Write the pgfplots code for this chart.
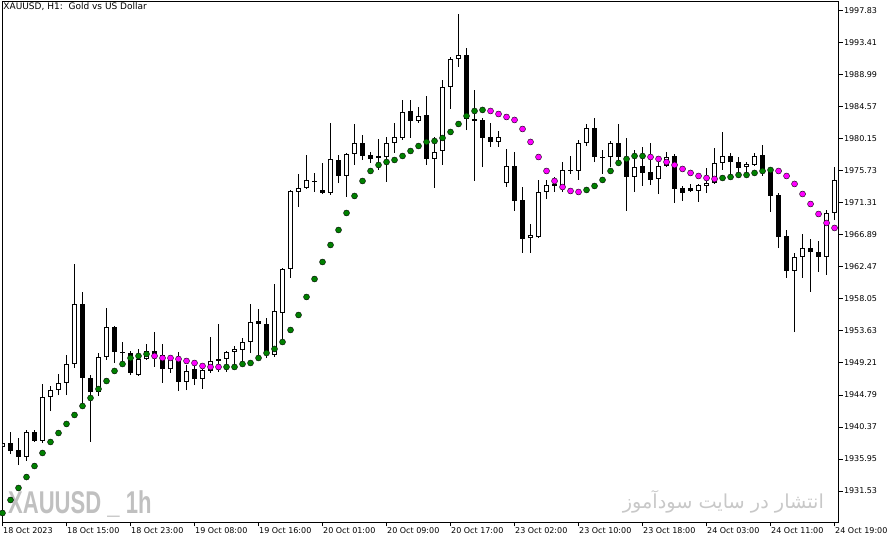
\documentclass[border=0pt]{standalone}
\usepackage{fontspec}
\setmainfont{DejaVu Sans}
\newfontfamily\arabicfont[Script=Arabic]{DejaVu Sans}
\newfontfamily\wmfont{Liberation Sans}
\TeXXeTstate=1
\usepackage{graphicx}
\usepackage{pgfplots}
\usepackage{pgfplotstable}
\pgfplotsset{compat=1.18}

\definecolor{sargreen}{RGB}{0,128,0}
\definecolor{sarmag}{RGB}{255,0,255}
\definecolor{wmgray}{RGB}{192,192,192}
\definecolor{wmgray2}{RGB}{200,200,200}

% H1 candles, bullish (close > open)
\pgfplotstableread{
x o h l c
0 1937.61 1938.30 1937.47 1938.16
3 1936.23 1939.96 1935.68 1939.68
5 1938.44 1946.31 1938.16 1944.51
6 1944.51 1946.03 1942.58 1945.48
7 1945.48 1947.69 1944.79 1946.45
8 1946.45 1950.32 1944.79 1949.07
9 1949.07 1962.89 1948.52 1957.36
12 1945.21 1950.59 1944.65 1950.04
13 1950.04 1956.81 1949.63 1954.18
17 1947.55 1951.15 1947.42 1949.76
18 1949.76 1951.84 1949.63 1950.87
21 1948.38 1950.04 1947.83 1949.76
23 1946.59 1948.93 1945.48 1948.11
25 1947.00 1948.93 1945.62 1948.24
26 1948.11 1952.80 1947.83 1949.49
27 1949.49 1954.60 1947.97 1949.76
28 1949.76 1950.87 1947.97 1950.73
29 1950.73 1951.56 1949.07 1951.15
30 1951.01 1952.66 1949.21 1952.11
31 1952.11 1957.36 1950.59 1954.87
34 1950.32 1960.12 1950.04 1956.39
35 1956.12 1962.33 1952.11 1962.20
36 1962.20 1973.11 1960.95 1972.97
37 1972.83 1975.32 1970.76 1973.38
38 1973.38 1977.94 1973.25 1974.49
41 1972.69 1982.36 1972.42 1977.39
43 1975.04 1978.22 1972.14 1978.08
44 1978.08 1982.22 1976.56 1979.60
47 1977.53 1980.15 1975.87 1977.80
48 1977.66 1980.43 1974.21 1979.60
49 1979.60 1982.36 1978.22 1980.43
50 1980.29 1985.54 1980.01 1983.88
52 1982.64 1984.57 1982.36 1983.33
54 1977.39 1980.43 1973.38 1978.36
55 1978.49 1988.30 1976.56 1987.33
56 1987.33 1991.48 1984.30 1991.20
57 1991.20 1997.42 1990.10 1991.75
62 1979.74 1981.26 1979.05 1980.43
63 1974.07 1978.77 1973.52 1976.42
66 1966.48 1968.41 1964.41 1966.89
67 1966.61 1974.49 1966.48 1972.83
68 1972.83 1974.49 1971.86 1973.80
70 1973.66 1976.97 1972.83 1975.87
72 1975.73 1980.01 1974.49 1979.60
73 1979.60 1982.22 1979.18 1981.67
76 1977.66 1979.87 1976.28 1979.60
79 1974.90 1978.63 1972.83 1976.28
82 1974.63 1977.39 1972.55 1976.42
83 1976.42 1978.36 1976.28 1977.66
87 1972.97 1973.94 1971.45 1973.80
88 1973.66 1976.15 1972.69 1974.07
89 1974.07 1978.91 1973.94 1976.84
90 1976.84 1981.12 1975.87 1977.80
93 1976.28 1976.97 1974.76 1976.70
94 1976.56 1978.22 1976.42 1977.80
99 1961.92 1964.41 1953.49 1963.85
100 1963.85 1967.03 1960.95 1965.09
103 1963.85 1970.34 1961.37 1969.93
104 1969.93 1976.28 1968.96 1974.49
}\bull

% bearish (close < open)
\pgfplotstableread{
x o h l c
1 1938.16 1939.68 1936.64 1937.06
2 1937.19 1938.85 1935.12 1936.23
4 1939.68 1939.96 1938.30 1938.44
10 1957.36 1959.02 1943.13 1947.14
11 1947.14 1947.55 1938.30 1945.21
14 1954.18 1954.32 1949.21 1950.73
15 1950.73 1952.11 1949.21 1950.59
16 1950.59 1950.87 1947.55 1947.83
19 1950.87 1953.49 1948.66 1950.32
20 1950.32 1951.84 1946.45 1948.38
22 1949.90 1950.73 1945.34 1946.59
24 1948.38 1948.93 1946.17 1947.00
32 1955.01 1956.67 1949.90 1954.60
33 1954.60 1955.43 1949.90 1950.32
39 1974.35 1975.46 1972.83 1974.21
40 1973.11 1976.84 1972.55 1972.69
42 1977.25 1977.94 1974.07 1975.04
45 1979.60 1980.70 1977.25 1977.80
46 1977.94 1978.36 1976.84 1977.39
51 1984.02 1985.54 1980.29 1982.64
53 1983.47 1986.09 1976.56 1977.39
58 1991.75 1992.72 1981.39 1982.91
59 1982.91 1986.92 1974.35 1982.64
60 1982.78 1983.05 1976.28 1980.29
61 1980.43 1982.36 1979.05 1979.74
64 1976.42 1978.36 1970.21 1971.59
65 1971.73 1973.52 1964.41 1966.34
69 1973.94 1974.90 1972.83 1973.66
71 1975.87 1977.80 1975.32 1975.73
74 1981.67 1983.05 1976.97 1977.66
75 1977.66 1978.63 1975.32 1977.53
77 1979.60 1982.22 1976.84 1977.66
78 1977.66 1980.29 1970.21 1974.90
80 1976.42 1979.05 1973.66 1975.46
81 1975.59 1979.60 1973.80 1974.49
84 1977.80 1978.08 1971.31 1973.25
85 1973.38 1973.66 1971.59 1972.69
86 1973.38 1973.94 1972.83 1972.97
91 1977.80 1978.22 1975.18 1976.97
92 1976.97 1977.66 1974.90 1976.15
95 1977.94 1979.32 1975.04 1975.73
96 1975.87 1976.15 1970.07 1972.28
97 1972.42 1972.69 1965.09 1966.61
98 1966.75 1967.58 1960.95 1961.92
101 1965.09 1966.34 1959.02 1964.54
102 1964.54 1966.06 1961.78 1963.85
}\bear

% indicator dots below price (green)
\pgfplotstableread{
x y
0 1928.49
1 1930.29
2 1931.95
3 1933.46
4 1934.98
5 1936.78
6 1938.30
7 1939.54
8 1940.79
9 1942.03
10 1943.27
11 1944.38
12 1945.62
13 1946.72
14 1948.11
15 1949.07
16 1949.90
17 1950.18
18 1950.45
28 1948.66
29 1948.66
30 1949.07
31 1949.21
32 1949.90
33 1950.59
34 1951.15
35 1952.11
36 1953.77
37 1955.84
38 1958.33
39 1960.81
40 1963.16
41 1965.51
42 1967.58
43 1969.93
44 1972.28
45 1974.35
46 1975.73
47 1976.56
48 1976.97
49 1977.25
50 1977.80
51 1978.49
52 1979.18
53 1979.74
54 1979.87
55 1980.29
56 1981.12
57 1982.22
58 1983.33
59 1984.02
60 1984.16
73 1973.11
74 1973.66
75 1974.49
76 1975.73
77 1976.84
78 1977.39
79 1977.80
80 1977.80
90 1974.76
91 1974.90
92 1975.18
93 1975.18
94 1975.46
95 1975.73
96 1975.87
}\sarup

% indicator dots above price (magenta)
\pgfplotstableread{
x y
19 1950.18
20 1949.90
21 1949.90
22 1949.76
23 1949.49
24 1949.21
25 1948.80
26 1948.66
27 1948.66
61 1984.02
62 1983.60
63 1983.19
64 1982.78
65 1981.53
66 1979.74
67 1977.66
68 1975.73
69 1974.35
70 1973.52
71 1972.97
72 1972.83
81 1977.66
82 1977.39
83 1976.97
84 1976.56
85 1976.01
86 1975.46
87 1975.04
88 1974.76
89 1974.63
97 1975.73
98 1975.04
99 1973.94
100 1972.55
101 1971.17
102 1969.79
103 1968.55
104 1967.86
}\sardn

\begin{document}
\begin{tikzpicture}
\begin{axis}[
    width=835.8bp, height=520bp, scale only axis,
    xmin=0, xmax=104.47,
    ymin=1927.25, ymax=1999.07,
    axis line style={line width=1bp},
    tick align=outside,
    major tick length=4.5bp,
    tick style={black, line width=1bp},
    xtick pos=bottom, ytick pos=right, yticklabel pos=right,
    xtick={0,8,...,104},
    xticklabels={18 Oct 2023,18 Oct 15:00,18 Oct 23:00,19 Oct 08:00,19 Oct 16:00,20 Oct 01:00,20 Oct 09:00,20 Oct 17:00,23 Oct 02:00,23 Oct 10:00,23 Oct 18:00,24 Oct 03:00,24 Oct 11:00,24 Oct 19:00},
    xticklabel style={anchor=north west, xshift=-0.5bp, inner sep=1bp, font=\fontsize{8bp}{9bp}\selectfont},
    ytick={1931.53,1935.95,1940.37,1944.79,1949.21,1953.63,1958.05,1962.47,1966.89,1971.31,1975.73,1980.15,1984.57,1988.99,1993.41,1997.83},
    yticklabels={1931.53,1935.95,1940.37,1944.79,1949.21,1953.63,1958.05,1962.47,1966.89,1971.31,1975.73,1980.15,1984.57,1988.99,1993.41,1997.83},
    yticklabel style={anchor=west, inner sep=1bp, font=\fontsize{8bp}{9bp}\selectfont},
    clip=true,
    candle/.style={draw=none, mark=none, forget plot,
        error bars/.cd, y dir=plus, y explicit, error mark=none},
]
\coordinate (SW) at (rel axis cs:0,0);

% watermarks first, so they stay behind the chart
\node[anchor=base west, inner sep=0, xscale=0.7, text=wmgray,
      font=\wmfont\bfseries\fontsize{31.5bp}{32bp}\selectfont]
  at (axis cs:0.69,1928.49) {XAUUSD \_ 1h};
\node[anchor=center, inner sep=0, text=wmgray2]
  at (axis cs:90.1,1930.0) {\resizebox{201bp}{!}{\arabicfont\beginR انتشار در سایت سودآموز\endR}};

% wicks
\addplot[candle, error bar style={draw=black, line width=1bp}]
  table[x=x, y=l, y error plus expr={\thisrow{h}-\thisrow{l}}] {\bull};
\addplot[candle, error bar style={draw=black, line width=1bp}]
  table[x=x, y=l, y error plus expr={\thisrow{h}-\thisrow{l}}] {\bear};

% bodies
\addplot[candle, error bar style={draw=black, line width=5bp}]
  table[x=x, y=c, y error plus expr={\thisrow{o}-\thisrow{c}}] {\bear};
\addplot[candle, error bar style={draw=black, line width=5bp}]
  table[x=x, y=o, y error plus expr={\thisrow{c}-\thisrow{o}}] {\bull};
\addplot[candle, error bar style={draw=white, line width=3bp}]
  table[x=x, y expr={\thisrow{o}+0.138}, y error plus expr={max(\thisrow{c}-\thisrow{o}-0.276,0)}] {\bull};

% indicator dots
\addplot[only marks, mark=*, mark size=3bp, mark options={draw=none, fill=sargreen}]
  table[x=x, y=y] {\sarup};
\addplot[only marks, mark=*, mark size=3bp, mark options={draw=none, fill=sarmag}]
  table[x=x, y=y] {\sardn};

\node[anchor=north west, inner sep=0, font=\fontsize{9bp}{10bp}\selectfont]
  at (axis cs:0.1,1998.98) {XAUUSD, H1:\ \ Gold vs US Dollar};
\end{axis}
\pgfresetboundingbox
\path[use as bounding box] ([shift={(-2.5bp,-21bp)}]SW) rectangle ([shift={(889.5bp,522bp)}]SW);
\end{tikzpicture}
\end{document}
